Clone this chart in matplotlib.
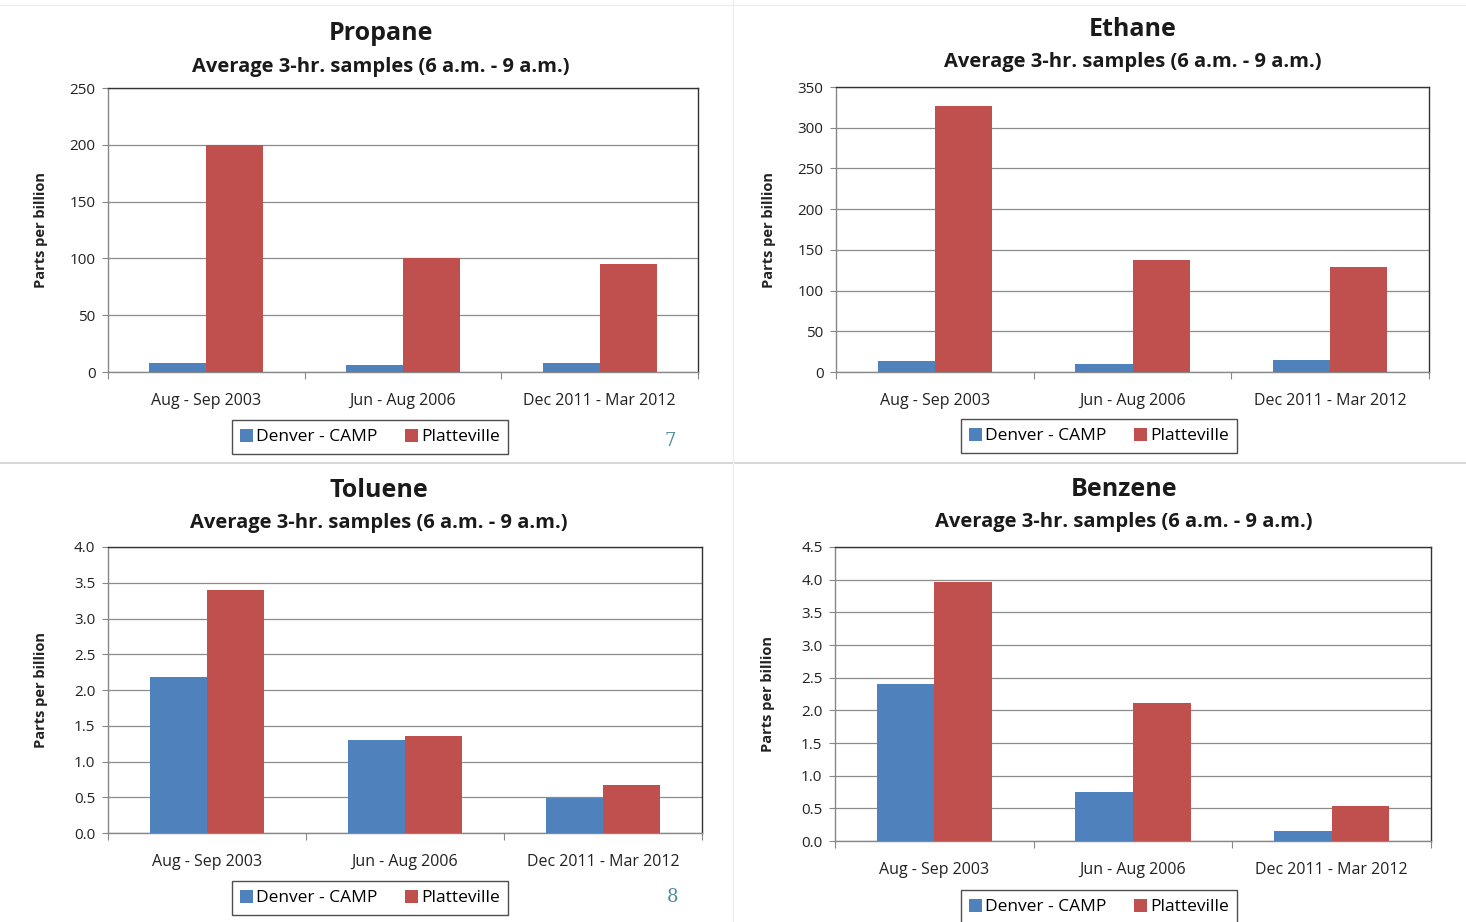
import matplotlib

matplotlib.use("Agg")
import matplotlib.pyplot as plt
from matplotlib.lines import Line2D
from matplotlib.patches import Patch

plt.rcParams["font.family"] = ["Liberation Sans Narrow", "Open Sans", "DejaVu Sans"]

periods = ["Aug - Sep 2003", "Jun - Aug 2006", "Dec 2011 - Mar 2012"]
sites = ["Denver - CAMP", "Platteville"]
subtitle = "Average 3-hr. samples (6 a.m. - 9 a.m.)"

propane_denver = [8, 6, 8]
propane_platteville = [200, 100, 95]
propane_ticks = [0, 50, 100, 150, 200, 250]

ethane_denver = [13.5, 10, 15]
ethane_platteville = [327, 138, 129]
ethane_ticks = [0, 50, 100, 150, 200, 250, 300, 350]

toluene_denver = [2.18, 1.30, 0.49]
toluene_platteville = [3.40, 1.36, 0.67]
toluene_ticks = [0.0, 0.5, 1.0, 1.5, 2.0, 2.5, 3.0, 3.5, 4.0]

benzene_denver = [2.40, 0.75, 0.15]
benzene_platteville = [3.97, 2.11, 0.54]
benzene_ticks = [0.0, 0.5, 1.0, 1.5, 2.0, 2.5, 3.0, 3.5, 4.0, 4.5]

BLUE = "#4F81BD"
RED = "#C0504D"
W, H = 1466, 922


def px_axes(left, top, right, bottom):
    return [left / W, (H - bottom) / H, (right - left) / W, (bottom - top) / H]


def draw_panel(fig, box, title, title_xy, denver, platte, ticks, fmt, legend_xy):
    ax = fig.add_axes(px_axes(*box))
    width = 0.29
    xs = list(range(len(periods)))
    ax.bar([x - width / 2 for x in xs], denver, width, color=BLUE, zorder=3)
    ax.bar([x + width / 2 for x in xs], platte, width, color=RED, zorder=3)
    ax.set_xlim(-0.5, len(periods) - 0.5)
    ax.set_ylim(ticks[0], ticks[-1])
    ax.set_yticks(ticks)
    ax.set_yticklabels([fmt.format(t) for t in ticks], fontsize=11, color="#222222")
    ax.set_xticks(xs)
    ax.set_xticklabels(periods, fontsize=11.5, color="#222222")
    ax.tick_params(axis="x", length=0, pad=15)
    ax.tick_params(axis="y", length=4, width=0.8, color="#888888", pad=5)
    # category boundary ticks on the x axis
    ax.set_xticks([x - 0.5 for x in range(len(periods) + 1)], minor=True)
    ax.tick_params(axis="x", which="minor", length=5, width=0.8, color="#888888")
    ax.yaxis.grid(True, color="#8c8c8c", lw=0.9, zorder=0)
    for side in ["top", "right"]:
        ax.spines[side].set_color("#333333")
        ax.spines[side].set_linewidth(1.0)
    for side in ["left", "bottom"]:
        ax.spines[side].set_color("#888888")
        ax.spines[side].set_linewidth(1.0)
    ax.set_ylabel("Parts per billion", fontsize=10.5, fontweight="bold", color="#222222")
    ax.yaxis.set_label_coords(-60 / (box[2] - box[0]), 0.5)

    tx, ty = title_xy
    fig.text(tx / W, 1 - ty / H, title, ha="center", va="center",
             fontsize=18, fontweight="bold", color="#1a1a1a")
    fig.text(tx / W, 1 - (ty + 33) / H, subtitle, ha="center", va="center",
             fontsize=14.5, fontweight="bold", color="#1a1a1a")

    handles = [Patch(facecolor=BLUE, label=sites[0]), Patch(facecolor=RED, label=sites[1])]
    lx = (legend_xy[0] - box[0]) / (box[2] - box[0])
    ly = (box[3] - legend_xy[1]) / (box[3] - box[1])
    leg = ax.legend(handles=handles, ncol=2, loc="center", bbox_to_anchor=(lx, ly),
                    fontsize=12.5, frameon=True, fancybox=False, edgecolor="#222222",
                    handlelength=0.75, handleheight=0.75, handletextpad=0.15,
                    columnspacing=1.6, borderpad=0.5, borderaxespad=0)
    leg.get_frame().set_linewidth(1.0)
    return ax


fig = plt.figure(figsize=(W / 100, H / 100), dpi=100)
fig.patch.set_facecolor("white")

# panel separators
fig.add_artist(Line2D([0, 1], [1 - 463 / H, 1 - 463 / H], color="#d0d0d0", lw=1.2))
fig.add_artist(Line2D([733 / W, 733 / W], [0, 1], color="#eeeeee", lw=1.0))
fig.add_artist(Line2D([0, 1], [1 - 5 / H, 1 - 5 / H], color="#eeeeee", lw=1.0))

draw_panel(fig, (108, 88, 698, 372), "Propane", (381, 34),
           propane_denver, propane_platteville, propane_ticks, "{:g}", (370, 437))
draw_panel(fig, (836, 87, 1429, 372), "Ethane", (1133, 29),
           ethane_denver, ethane_platteville, ethane_ticks, "{:g}", (1099, 436))
draw_panel(fig, (108, 547, 702, 833), "Toluene", (379, 490),
           toluene_denver, toluene_platteville, toluene_ticks, "{:.1f}", (370, 898))
draw_panel(fig, (835, 547, 1431, 841), "Benzene", (1124, 489),
           benzene_denver, benzene_platteville, benzene_ticks, "{:.1f}", (1099, 907))

fig.text(670 / W, 1 - 441 / H, "7", ha="center", va="center", fontsize=13,
         family="DejaVu Serif", color="#4a8a96")
fig.text(673 / W, 1 - 897 / H, "8", ha="center", va="center", fontsize=13,
         family="DejaVu Serif", color="#4a8a96")

fig.savefig("out.png", dpi=100)
